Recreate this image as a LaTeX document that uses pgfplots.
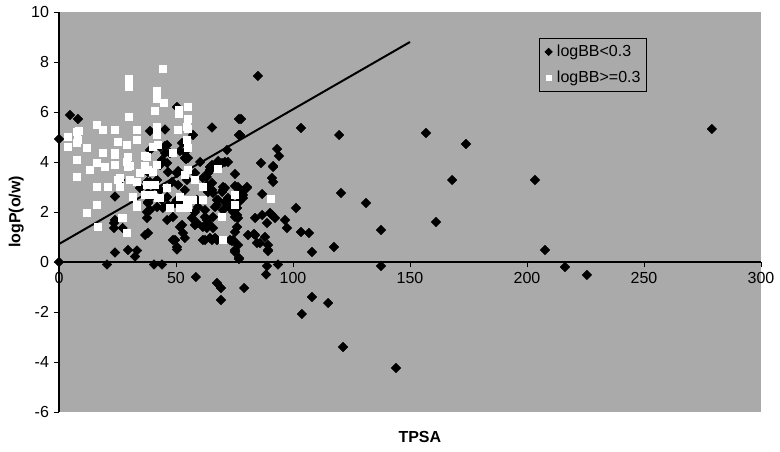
\documentclass[border=0pt]{standalone}
\usepackage{fontspec}
\setmainfont{Liberation Sans}
\usepackage{pgfplots}
\pgfplotsset{compat=1.18}
\definecolor{plotgray}{RGB}{170,170,170}
\newcommand{\lbl}{\fontsize{12}{14}\selectfont}
\begin{document}
\begin{tikzpicture}
% picture size 780x452 px, 1px = 0.75pt
\useasboundingbox (-44.25pt,-30pt) rectangle (540.75pt,309pt);
\begin{axis}[
  at={(0,0)}, anchor=south west,
  scale only axis, width=526.5pt, height=300pt,
  xmin=0, xmax=300, ymin=-6, ymax=10,
  axis x line*=middle, axis y line*=left,
  axis line style={-, black, line width=0.9pt},
  hide obscured x ticks=false, hide obscured y ticks=false,
  xtick={0,50,...,300}, ytick={-6,-4,...,10},
  tick align=outside, major tick length=4pt,
  tick style={black, line width=0.7pt},
  tick label style={font=\lbl},
  /pgf/number format/assume math mode=true,
  axis background/.style={fill=plotgray},
  clip=false,
  every axis x label/.style={at={(axis description cs:0.514,-0.0625)}, anchor=center, font=\lbl\bfseries},
  every axis y label/.style={at={(axis description cs:-0.061,0.5)}, rotate=90, anchor=center, font=\lbl\bfseries},
  xlabel={TPSA}, ylabel={logP(o/w)},
  legend style={at={(axis description cs:0.684,0.935)}, anchor=north west,
    draw=black, fill=plotgray, font=\lbl, inner xsep=2.5pt, inner ysep=3pt,
    row sep=5pt, line width=0.6pt},
  legend cell align=left,
  legend image code/.code={\path[draw=none] (0cm,-0.05cm) rectangle (0.3cm,0.05cm);
    \draw[#1, draw=none, mark size=1.9pt] plot coordinates {(0.15cm,0cm)};},
]
% logBB < 0.3
\addplot[only marks, mark=square*, mark size=2.5pt, mark options={rotate=45, fill=black, draw=black}] coordinates {
(0,4.92) (0,0) (4.7,5.88) (8.1,5.72) (20.5,-0.1) (23.9,0.38) (29.5,0.48) (32.5,0.22) (33.3,0.46)
(23.9,2.62) (23.5,1.56) (23.5,1.36) (27.2,1.36) (23.9,1.68) (36.8,1.08) (37.6,2.0) (37.6,1.76)
(38,2.4) (38,2.76) (38.9,2.56) (38,2.36) (38.9,2.08) (38,1.16) (38,3.6) (37.6,3.2) (38.9,3.2)
(34.6,2.96) (26.1,3.28) (38.9,5.24) (45.3,5.3) (57.3,5.08) (65.4,5.38) (76.9,5.72) (76.9,5.08)
(38.9,4.48) (45.3,4.64) (45.3,4.36) (44,4.08) (43.2,3.88) (43.2,4.6) (46.2,4.68) (47.4,4.36)
(51.7,4.44) (52.6,4.76) (53.8,4.4) (53.8,4.16) (55.1,4.16) (54.3,4.12) (46.2,3.96) (46.6,3.6)
(50.4,3.56) (50.9,3.64) (54.7,3.28) (58.1,3.56) (60.3,4.0) (61.5,3.36) (63.7,3.56) (64.5,3.8)
(65.4,3.88) (68,4.04) (70.9,4.0) (71.8,4.48) (72.2,4.0) (69.7,3.96) (63.2,3.4) (63.2,3.08)
(64.5,3.68) (65.4,3.16) (63.7,2.8) (65.8,2.76) (65.4,2.88) (69.7,2.8) (70.1,3.0) (70.9,2.96)
(70.1,2.88) (67.5,2.48) (68,2.48) (67.5,2.28) (66.7,2.2) (70.9,2.4) (72.2,2.56) (70.1,2.08)
(62.4,2.08) (73.1,2.16) (76.1,2.16) (73.9,2.36) (72.2,2.28) (74.4,2.0) (75.2,1.8) (76.5,1.76)
(76.1,1.88) (65.8,1.8) (62.4,1.8) (63.2,1.68) (63.7,1.56) (65.8,1.36) (63.2,1.36) (61.5,1.4)
(59,1.56) (56.8,1.76) (58.1,2.0) (59.4,2.2) (59,2.48) (58.1,1.48) (52.6,1.48) (61.5,0.88)
(62.4,0.88) (64.5,0.96) (65.4,0.88) (66.7,0.96) (67.5,0.88) (73.1,0.88) (73.9,0.84) (74.4,0.88)
(75.2,0.48) (75.2,1.2) (76.1,1.4) (76.5,0.68) (75.2,0.44) (76.9,0.16) (75.2,3.52) (75.2,3.04)
(76.5,3.0) (80.3,3.0) (78.6,2.68) (76.9,2.4) (78.2,2.76) (78.6,2.56) (80.3,2.96) (86.8,2.72)
(91.5,3.8) (91,3.36) (91.5,3.2) (86.3,3.96) (93.2,4.52) (94,4.24) (91.5,3.84) (85,7.44)
(77.8,5.72) (77.4,5.08) (103.4,5.36) (119.7,5.08) (120.5,2.76) (131.2,2.36) (101.3,2.16)
(96.6,1.68) (97.4,1.36) (92.3,1.76) (91,1.88) (90.2,1.96) (86.8,1.88) (83.8,1.76) (88.9,1.56)
(80.8,1.08) (83.8,1.08) (88,1.0) (85.9,0.76) (89.3,0.68) (89.3,0.48) (84.6,0.76) (83.3,1.12)
(103.4,1.2) (106.8,1.16) (108.1,0.4) (117.5,0.6) (137.6,1.28) (93.6,-0.1) (88.9,-0.16)
(88.5,-0.5) (79.1,-1.04) (108.1,-1.4) (115,-1.64) (103.8,-2.08) (121.4,-3.4) (144,-4.24)
(137.6,-0.16) (156.8,5.16) (173.9,4.72) (168,3.28) (203.4,3.28) (161.1,1.6) (207.7,0.48)
(216.2,-0.2) (225.6,-0.52) (279,5.32) (40.6,-0.1) (44,-0.1) (50.4,0.5) (48.7,0.88) (50.4,0.6)
(51.7,1.4) (53,1.16) (53.8,0.96) (49.6,0.88) (46.2,1.68) (41.9,2.2) (44.4,2.16) (46.6,2.28)
(44,2.48) (46.2,2.6) (49.6,2.36) (48.7,1.8) (43.2,2.88) (41.9,3.28) (48.3,3.2) (50.9,3.08)
(50.4,2.48) (52.6,2.4) (53.8,2.88) (58.5,-0.6) (67.5,-0.84) (69.2,-1.04) (69.2,-1.52)
(75.2,0.4) (76.9,0.12) (89.3,0.44) (50.4,6.2)
};
\addlegendentry{logBB<0.3}
% logBB >= 0.3
\addplot[only marks, mark=square*, mark size=2.6pt, mark options={fill=white, draw=white}] coordinates {
(3.8,5.0) (3.8,4.6) (7.7,5.2) (8.1,4.9) (7.7,4.76) (12,4.56) (7.7,4.08) (7.7,3.4) (13.2,3.68)
(16.2,3.96) (18.8,4.36) (19.7,3.8) (16.2,3.0) (16.2,2.28) (12,1.96) (16.7,1.4) (16.2,5.48)
(18.8,5.28) (23.9,5.28) (25.2,4.8) (29,4.68) (33.3,5.28) (33.3,4.88) (23.9,4.36) (29.5,4.2)
(23.9,3.88) (20.9,3.0) (26.1,3.0) (26.1,3.36) (29.5,3.8) (30.3,3.28) (33.3,3.2) (34.6,3.56)
(31.6,2.6) (33.3,2.28) (26.9,1.76) (29,1.16) (37.6,4.2) (40.2,4.6) (41.9,5.4) (41.9,5.08)
(42.3,4.68) (38,3.68) (40.2,3.6) (37.6,3.08) (41,3.08) (41.9,3.88) (36.8,2.68) (40.2,2.68)
(43.2,2.56) (46.2,2.96) (48.7,4.36) (50.9,5.28) (54.7,4.88) (55.1,4.56) (54.7,5.4) (55.1,3.68)
(58.1,3.28) (51.7,2.6) (54.7,2.48) (55.1,2.16) (51.7,2.16) (57.3,2.48) (61.5,2.48) (61.5,3.0)
(68,3.72) (69.7,1.8) (70.1,0.88) (75.2,2.68) (75.2,2.28) (47.4,2.16) (29.9,7.32) (29.9,7.0)
(44.4,7.72) (41.9,6.84) (41.9,6.52) (44.9,6.36) (41,6.04) (51.3,6.08) (51.3,5.92) (55.1,6.2)
(55.1,5.72) (29.9,5.8) (8.5,5.24) (55.1,5.32) (53.8,3.48) (42.3,2.56) (90.6,2.52) (36.8,4.24)
(36.8,3.84) (30.3,3.84) (29,4.0) (23.9,4.28) (27.4,1.76) (33.3,2.2) (25.2,3.28)
};
\addlegendentry{logBB>=0.3}
% trend line
\addplot[black, line width=1.5pt, forget plot] coordinates {(0,0.72) (150,8.8)};
\end{axis}
\end{tikzpicture}
\end{document}
